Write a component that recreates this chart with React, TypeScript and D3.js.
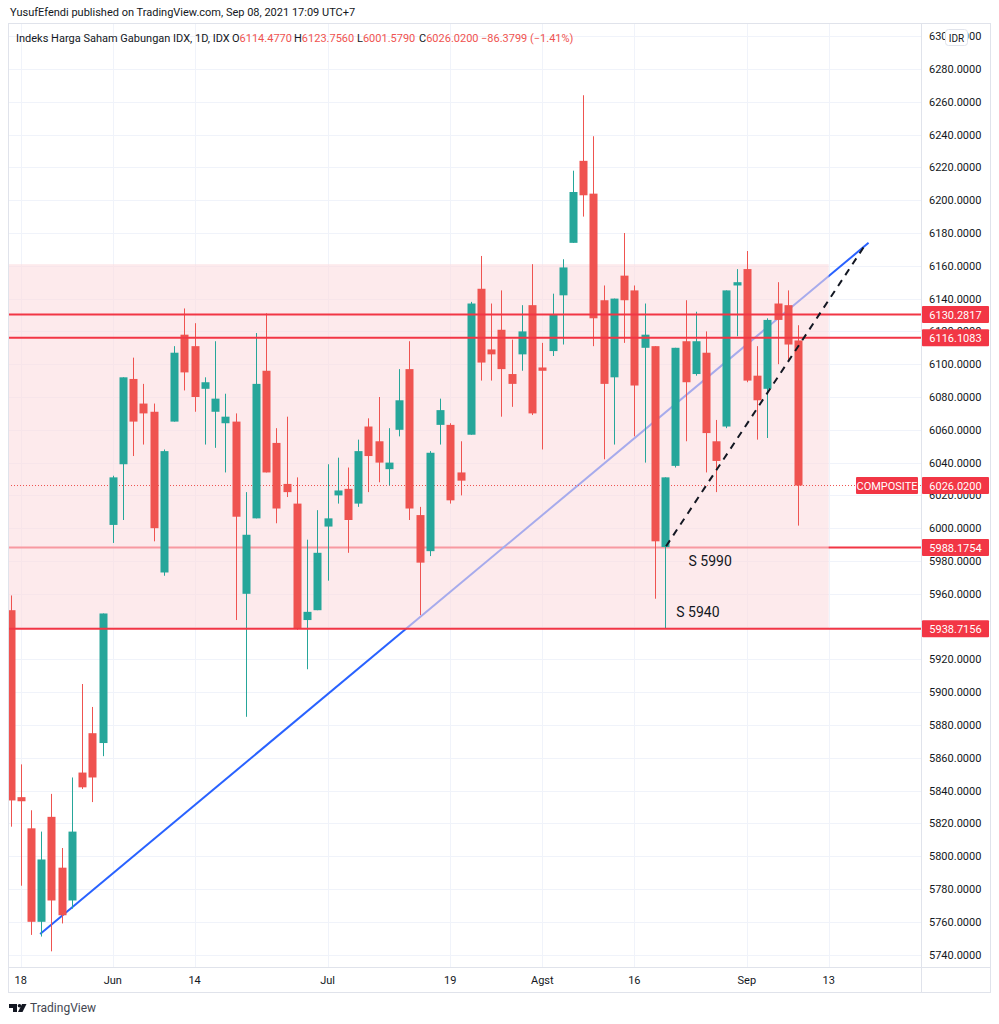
import React, { useEffect, useRef } from 'react';
import * as d3 from 'd3';

// daily bars, 17 May 2021 .. 8 Sep 2021 (IDX composite)
const opens = [
  5950, 5836, 5817, 5760, 5824, 5793, 5773, 5851, 5875, 5869,
  6002, 6039, 6091, 6076, 6071, 5973, 6065, 6118, 6111, 6085,
  6071, 6064, 6065, 5960, 6006, 6096, 6052, 6027, 6015, 5944,
  5950, 6001, 6020, 6024, 6015, 6062, 6053, 6036, 6060, 6097,
  6008, 5986, 6063, 6063, 6034, 6057, 6146, 6109, 6121, 6094,
  6106, 6136, 6098, 6108, 6142, 6174, 6224, 6204, 6139, 6092,
  6154, 6145, 6110, 6111, 5988.5, 6038, 6114, 6094, 6107, 6053,
  6062, 6148, 6158, 6093, 6085, 6137, 6136, 6114.477,
];
const highs = [
  5959, 5856, 5828, 5815, 5838, 5805, 5848, 5905, 5891, 5948,
  6032, 6092, 6104, 6088, 6076, 6048, 6111, 6134, 6125, 6092,
  6114, 6082, 6070, 6022, 6119, 6131, 6061, 6068, 6031, 5993,
  6011, 6039, 6043, 6037, 6054, 6067, 6080, 6061, 6097, 6114,
  6013, 6047, 6079, 6064, 6053, 6138, 6166, 6137, 6145, 6115,
  6136, 6161, 6113, 6143, 6164, 6218, 6264, 6239, 6148, 6140,
  6180, 6148, 6137, 6111, 6031, 6110, 6139, 6132, 6120, 6066,
  6145, 6158, 6169, 6111, 6128, 6150, 6145, 6123.756,
];
const lows = [
  5818, 5782, 5752, 5751, 5742, 5759, 5768, 5841, 5833, 5861,
  5991, 6005, 6044, 6051, 5992, 5971, 6065, 6084, 6071, 6051,
  6049, 6034, 5944, 5885, 6006, 6034, 6003, 6019, 5938, 5914,
  5950, 5968, 6015, 5985, 6013, 6022, 6028, 6026, 6056, 6005,
  5947, 5983, 6051, 6015, 6020, 6057, 6090, 6090, 6068, 6074,
  6096, 6069, 6048, 6105, 6112, 6174, 6190, 6111, 6042, 6051,
  6113, 6056, 6040, 5957, 5938.7, 6037, 6053, 6093, 6034, 6022,
  6061, 6117, 6089, 6054, 6055, 6100, 6102, 6001.579,
];
const closes = [
  5834, 5833.5, 5760, 5798, 5773, 5764, 5815, 5842, 5848, 5948,
  6031, 6092, 6065, 6070, 6000, 6047, 6107, 6095, 6080, 6089,
  6079, 6068, 6007, 5996, 6088, 6034, 6012, 6022, 5939, 5949,
  5985, 6006, 6023, 6005, 6047, 6044, 6040, 6040, 6078, 6012,
  5979, 6046, 6072, 6017, 6029, 6137, 6101, 6106, 6097, 6088,
  6120, 6070, 6096, 6130, 6159, 6205, 6203, 6128, 6088, 6140,
  6139, 6087, 6118, 5992, 6031, 6110, 6089, 6114, 6058, 6041,
  6145, 6150, 6090, 6078, 6127, 6127, 6112, 6026.02,
];

const timeLabels = ['18', 'Jun', '14', 'Jul', '19', 'Agst', '16', 'Sep', '13'];
const timeBars = [1, 10, 18, 31, 43, 52, 61, 72, 80];

const levels = [6130.2817, 6116.1083, 5988.1754, 5938.7156];
const lastPrice = 6026.02;
const zone = { fromBar: -5, toBar: 80, top: 6161, bottom: 5938.7156 };
const trendLine = [[2.9, 5752.5], [83.9, 6174]];
const dashedLine = [[64.1, 5989], [83.6, 6173]];
const notes = [
  { text: 'S 5990', bar: 66.3, price: 5977 },
  { text: 'S 5940', bar: 65.1, price: 5946 },
];

const legendName = 'Indeks Harga Saham Gabungan IDX, 1D, IDX';
const legendKeys = ['O', 'H', 'L', 'C'];
const legendValues = ['6114.4770', '6123.7560', '6001.5790', '6026.0200'];
const legendChange = '\u221286.3799 (\u22121.41%)';

const UP = '#26a69a';
const DOWN = '#ef5350';
const LINE_RED = '#f23645';
const TEXT = '#131722';
const GRID = '#f0f3fa';
const BORDER = '#e0e3eb';
const FONT = 'Roboto, "Open Sans", sans-serif';

const App = () => {
  const ref = useRef<SVGSVGElement>(null);

  useEffect(() => {
    const pane = { left: 8, top: 23, right: 921, bottom: 967 };
    const frame = { right: 990, bottom: 992 };

    const x = d3.scaleLinear().domain([0, 77]).range([10.5, 798]);
    const y = d3.scaleLinear().domain([5740, 6280]).range([954.6, 69]);
    const bodyW = 8;

    const svg = d3.select(ref.current);
    svg.selectAll('*').remove();

    svg.append('rect').attr('width', 999).attr('height', 1024).attr('fill', '#fff');

    svg.append('defs').append('clipPath').attr('id', 'pane')
      .append('rect')
      .attr('x', pane.left).attr('y', pane.top)
      .attr('width', pane.right - pane.left).attr('height', pane.bottom - pane.top);

    const g = svg.append('g').attr('clip-path', 'url(#pane)');

    // grid
    const priceTicks = d3.range(5740, 6301, 20);
    g.selectAll('.hgrid').data(priceTicks).enter().append('line')
      .attr('x1', pane.left).attr('x2', pane.right)
      .attr('y1', d => Math.round(y(d)) + 0.5).attr('y2', d => Math.round(y(d)) + 0.5)
      .attr('stroke', GRID);
    g.selectAll('.vgrid').data(timeBars).enter().append('line')
      .attr('x1', d => Math.round(x(d)) + 0.5).attr('x2', d => Math.round(x(d)) + 0.5)
      .attr('y1', pane.top).attr('y2', pane.bottom)
      .attr('stroke', GRID);

    const lineGen = d3.line<number[]>().x(d => x(d[0])).y(d => y(d[1]));

    // the 5988 support sits under the shaded zone
    g.append('line')
      .attr('x1', pane.left).attr('x2', pane.right)
      .attr('y1', y(levels[2])).attr('y2', y(levels[2]))
      .attr('stroke', LINE_RED).attr('stroke-width', 2);

    g.append('path').datum(trendLine).attr('d', lineGen)
      .attr('fill', 'none').attr('stroke', '#2962ff').attr('stroke-width', 2);

    g.append('rect')
      .attr('x', x(zone.fromBar)).attr('y', y(zone.top))
      .attr('width', x(zone.toBar) - x(zone.fromBar))
      .attr('height', y(zone.bottom) - y(zone.top))
      .attr('fill', 'rgb(252,220,223)').attr('fill-opacity', 0.6);

    g.append('line')
      .attr('x1', pane.left).attr('x2', pane.right)
      .attr('y1', y(lastPrice)).attr('y2', y(lastPrice))
      .attr('stroke', DOWN).attr('stroke-dasharray', '1 2');

    // candles
    const bars = d3.range(opens.length);
    const color = (i: number) => (closes[i] >= opens[i] ? UP : DOWN);
    g.selectAll('.wick').data(bars).enter().append('line')
      .attr('x1', i => Math.round(x(i)) + 0.5).attr('x2', i => Math.round(x(i)) + 0.5)
      .attr('y1', i => y(highs[i])).attr('y2', i => y(lows[i]))
      .attr('stroke', color);
    g.selectAll('.body').data(bars).enter().append('rect')
      .attr('x', i => Math.round(x(i)) + 0.5 - bodyW / 2)
      .attr('y', i => y(Math.max(opens[i], closes[i])))
      .attr('width', bodyW)
      .attr('height', i => Math.max(1.5, Math.abs(y(opens[i]) - y(closes[i]))))
      .attr('fill', color);

    g.selectAll('.level').data([levels[0], levels[1], levels[3]]).enter().append('line')
      .attr('x1', pane.left).attr('x2', pane.right)
      .attr('y1', d => y(d)).attr('y2', d => y(d))
      .attr('stroke', LINE_RED).attr('stroke-width', 2);

    g.append('path').datum(dashedLine).attr('d', lineGen)
      .attr('fill', 'none').attr('stroke', TEXT).attr('stroke-width', 2)
      .attr('stroke-dasharray', '7 6');

    g.selectAll('.note').data(notes).enter().append('text')
      .attr('x', d => x(d.bar)).attr('y', d => y(d.price))
      .attr('font-family', FONT).attr('font-size', 14).attr('fill', TEXT)
      .text(d => d.text);

    // frame & separators
    svg.append('rect')
      .attr('x', pane.left + 0.5).attr('y', pane.top + 0.5)
      .attr('width', frame.right - pane.left).attr('height', frame.bottom - pane.top)
      .attr('fill', 'none').attr('stroke', BORDER);
    svg.append('line')
      .attr('x1', pane.right + 0.5).attr('x2', pane.right + 0.5)
      .attr('y1', pane.top).attr('y2', frame.bottom)
      .attr('stroke', BORDER);
    svg.append('line')
      .attr('x1', pane.left).attr('x2', frame.right)
      .attr('y1', pane.bottom + 0.5).attr('y2', pane.bottom + 0.5)
      .attr('stroke', BORDER);

    // price axis (a label sitting right under a level mark is hidden, as TradingView does)
    const shownTicks = priceTicks.filter(t => levels.every(l => Math.abs(y(l) - y(t)) > 4));
    svg.selectAll('.plabel').data(shownTicks).enter().append('text')
      .attr('x', 929).attr('y', d => y(d) + 4)
      .attr('font-family', FONT).attr('font-size', 11).attr('fill', TEXT)
      .text(d => d.toFixed(4));

    const marker = (text: string, left: number, w: number, cy: number) => {
      svg.append('rect').attr('x', left).attr('y', cy - 8.5)
        .attr('width', w).attr('height', 17).attr('rx', 1).attr('fill', LINE_RED);
      svg.append('text').attr('x', left + w / 2).attr('y', cy + 4)
        .attr('text-anchor', 'middle')
        .attr('font-family', FONT).attr('font-size', 11).attr('fill', '#fff')
        .text(text);
    };
    levels.forEach(l => marker(l.toFixed(4), 922, 67, y(l)));
    marker('COMPOSITE', 856, 62, y(lastPrice));
    marker(lastPrice.toFixed(4), 922, 67, y(lastPrice));

    // currency badge
    svg.append('rect').attr('x', 945.5).attr('y', 29.5).attr('width', 22).attr('height', 16)
      .attr('rx', 3).attr('fill', '#fff').attr('stroke', BORDER);
    svg.append('text').attr('x', 956.5).attr('y', 41.5).attr('text-anchor', 'middle')
      .attr('font-family', FONT).attr('font-size', 10).attr('fill', TEXT).text('IDR');

    // time axis
    svg.selectAll('.tlabel').data(timeBars).enter().append('text')
      .attr('x', d => x(d)).attr('y', 984).attr('text-anchor', 'middle')
      .attr('font-family', FONT).attr('font-size', 11).attr('fill', TEXT)
      .text((d, i) => timeLabels[i]);

    // headers
    svg.append('text').attr('x', 10).attr('y', 16)
      .attr('font-family', FONT).attr('font-size', 11).attr('fill', TEXT)
      .text('YusufEfendi published on TradingView.com, Sep 08, 2021 17:09 UTC+7');

    const legend = svg.append('text').attr('y', 42)
      .attr('font-family', FONT).attr('font-size', 11).attr('fill', TEXT);
    legend.append('tspan').attr('x', 16).text(legendName);
    const keyX = [232, 294, 357, 419];
    legendKeys.forEach((k, i) => {
      legend.append('tspan').attr('x', keyX[i]).text(k);
      legend.append('tspan').attr('fill', DOWN).text(legendValues[i]);
    });
    legend.append('tspan').attr('x', 481).attr('fill', DOWN).text(legendChange);

    // footer logo
    const logo = svg.append('g').attr('fill', TEXT);
    logo.append('path').attr('d', 'M9 1004h8v8h-4v-4h-4z');
    logo.append('circle').attr('cx', 19.5).attr('cy', 1005.8).attr('r', 1.8);
    logo.append('path').attr('d', 'M22 1004h4.5l-4 8h-4.5z');
    svg.append('text').attr('x', 30).attr('y', 1012)
      .attr('font-family', FONT).attr('font-size', 12).attr('fill', '#434651')
      .text('TradingView');
  }, []);

  return (
    <svg ref={ref} width={999} height={1024}
      style={{ position: 'absolute', left: 0, top: 0, display: 'block' }} />
  );
};

export default App;
